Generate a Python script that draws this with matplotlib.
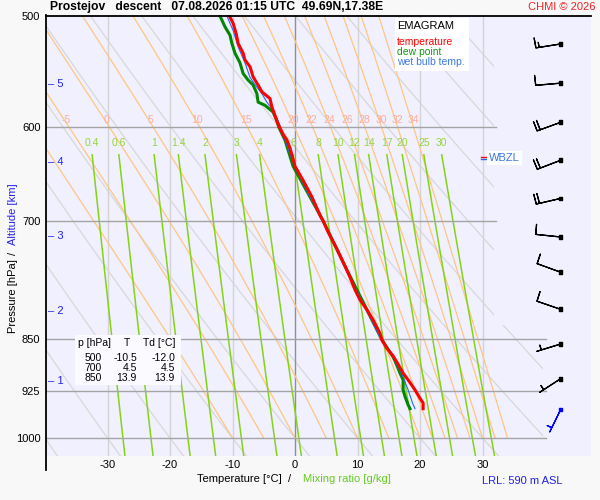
import numpy as np
import matplotlib.pyplot as plt
from matplotlib.patches import Polygon, Rectangle
from matplotlib.lines import Line2D
from matplotlib.ticker import NullLocator

plt.rcParams['font.family'] = ['Liberation Sans', 'DejaVu Sans']

# profile: temperature
p_temp = [500, 506, 515, 523, 531.5, 537.5, 543.4, 552.6, 560.1, 566.3, 572.6, 580.6,
          588.8, 597.2, 607.3, 613, 621, 640, 655, 673, 695, 700, 713, 733, 754, 768,
          784, 797, 810, 824, 842, 851, 863, 874, 886, 899, 909, 924, 937, 944, 953]
t_temp = [-10.5, -9.9, -9.4, -9.1, -8.3, -8.0, -7.2, -6.7, -5.9, -5.3, -4.0, -3.7,
          -3.2, -2.7, -1.9, -1.3, -0.8, 0.0, 1.3, 2.7, 4.1, 4.5, 5.3, 6.7, 8.0, 8.8,
          9.6, 10.4, 11.5, 12.5, 13.6, 13.9, 14.7, 15.7, 16.5, 17.3, 18.1, 19.2, 20.0, 20.5, 20.5]

# profile: dew point
p_dew = [500, 509, 516, 523, 531.5, 540, 549.5, 555.5, 560, 568, 576, 579, 585.5, 594,
         600, 613, 640, 673, 700, 754, 810, 851, 874, 881, 892, 899, 909, 924, 934, 947, 953]
t_dew = [-12.0, -11.2, -10.4, -10.1, -9.6, -8.8, -8.3, -7.5, -6.7, -6.1, -5.9, -4.8, -3.5, -2.9,
         -2.6, -1.6, -0.3, 2.4, 4.5, 8.0, 11.5, 13.9, 15.6, 16.0, 16.5, 16.8, 17.3, 17.3, 17.6, 18.1, 18.4]

# profile: wet bulb temperature
p_wet = [500, 512, 526, 540, 553, 562, 568, 576, 582, 590, 600, 640, 700, 754, 810, 851,
         874, 886, 900, 924, 944, 953]
t_wet = [-10.9, -9.9, -9.1, -8.0, -7.2, -6.1, -5.3, -4.5, -3.7, -3.0, -2.3, -0.1, 4.4, 7.9,
         11.4, 13.8, 15.6, 16.3, 17.1, 18.1, 18.8, 19.2]

# winds
p_wind = [523.5, 558.3, 595.4, 633.7, 674.7, 718.8, 761.6, 809.5, 857.0, 907.2, 954.4]
wind_dir = [261, 265, 250, 249, 257, 276, 290, 289, 253, 237, 206]
wind_kt = [15, 10, 20, 20, 20, 10, 10, 10, 5, 5, 5]

# altitude marks
alt_km = [1, 2, 3, 4, 5]
alt_p = [911, 812, 717.5, 636, 559]

# table
tab_p = ['500', '700', '850']
tab_t = ['-10.5', '4.5', '13.9']
tab_td = ['-12.0', '4.5', '13.9']

# background diagram lines
isobars = [600, 700, 850, 925, 1000]
isotherms = [-30, -20, -10, 0, 10, 20, 30]
theta_dry = list(range(-40, 160, 10))
theta_w = [-10, -5, 0, 5, 10, 15, 20, 22, 24, 26, 28, 30, 32, 34]
mix_ratio = [0.4, 0.6, 1, 1.4, 2, 3, 4, 6, 8, 10, 12, 14, 17, 20, 25, 30]
p_wbzl = 631


def es(tc):
    return 6.112 * np.exp(17.67 * tc / (tc + 243.5))


def moist_dtdp(p, tk):
    e = es(tk - 273.15)
    rs = 0.622 * e / (p - e)
    lv = 2.501e6
    return (287.04 * tk + lv * rs) / (1005.7 + lv * lv * rs * 0.622 / (287.04 * tk * tk)) / p


def moist_adiabat(tw, ps):
    t = tw + 273.15
    out = [t]
    for i in range(len(ps) - 1):
        h = ps[i + 1] - ps[i]
        k1 = moist_dtdp(ps[i], t)
        k2 = moist_dtdp(ps[i] + h / 2, t + h / 2 * k1)
        k3 = moist_dtdp(ps[i] + h / 2, t + h / 2 * k2)
        k4 = moist_dtdp(ps[i] + h, t + h * k3)
        t = t + h / 6 * (k1 + 2 * k2 + 2 * k3 + k4)
        out.append(t)
    return np.array(out) - 273.15


def mix_td(w, p):
    e = w * p / (622.0 + w)
    a = np.log(e / 6.112)
    return 243.5 * a / (17.67 - a)


fig = plt.figure(figsize=(6, 5), dpi=100, facecolor='#f8f8f8')
ax = fig.add_axes([46 / 600, 44 / 500, 545 / 600, 441 / 500])
ax.set_facecolor('#f0f0ff')
ax.set_yscale('log')
ax.set_ylim(1030, 499.18)
ax.set_xlim(-39.84, 47.36)
for s in ax.spines.values():
    s.set_visible(False)

clip = Polygon([(-40, 499), (31.9, 499), (31.9, 830), (39.7, 830), (39.7, 1030), (-40, 1030)],
               closed=True, transform=ax.transData, fill=False, visible=False)
ax.add_patch(clip)

pp = np.linspace(499, 1030, 200)
for th in theta_dry:
    ln, = ax.plot((th + 273.15) * (pp / 1000) ** 0.286 - 273.15, pp, color='#d8d8d8', lw=0.9, zorder=1)
    ln.set_clip_path(clip)

pm = np.linspace(1000, 499, 300)
for tw in theta_w:
    tt = moist_adiabat(tw, pm)
    ln, = ax.plot(tt, pm, color='#ffc680', lw=0.9, zorder=2)
    ln.set_clip_path(clip)
    tl = np.interp(593, pm[::-1], tt[::-1])
    if -39 < tl < 32:
        ax.text(tl + 0.3, 593, str(tw), color='#ffab9a', fontsize=7.5, ha='center', va='center', zorder=5)

pw = np.linspace(628, 1030, 100)
for w in mix_ratio:
    ax.plot(mix_td(w, pw), pw, color='#86d314', lw=1.1, zorder=2)
    ax.text(mix_td(w, 628), 616, ('%g' % w), color='#96d43c', fontsize=7.5, ha='center', va='center', zorder=5)

for t in isotherms:
    ax.axvline(t, color='#909090' if t == 0 else '#d4d4d4', lw=1, zorder=1.5)

for p in isobars:
    ax.plot([-40, 32.2 if p < 800 else 40.2], [p, p], color='#a4a4a4', lw=1, zorder=3)

# sounding
ax.plot(t_dew, p_dew, color='#008800', lw=2.2, zorder=6)
ax.plot(t_wet, p_wet, color='#1a6cff', lw=0.8, zorder=7)
ax.plot(t_temp, p_temp, color='#ff0000', lw=2.2, zorder=8)

# winds
d = np.radians(wind_dir)
u = -np.array(wind_kt) * np.sin(d)
v = -np.array(wind_kt) * np.cos(d)
bx = np.full(len(p_wind), 42.5)
cols = ['black'] * (len(p_wind) - 1) + ['blue']
ax.barbs(bx, p_wind, u, v, length=6, linewidth=0.9, color=cols, pivot='tip',
         sizes=dict(width=0.02, spacing=0.13, height=0.4), zorder=9)
ax.scatter(bx, p_wind, marker='s', s=7, c=cols, zorder=10)

# WBZL marker
ax.plot([29.7, 30.6], [p_wbzl - 1.2, p_wbzl - 1.2], color='red', lw=1, zorder=9)
ax.plot([29.7, 30.6], [p_wbzl + 1.2, p_wbzl + 1.2], color='#2a6ae8', lw=1, zorder=9)
ax.text(31.0, p_wbzl, 'WBZL', color='#3a78e0', fontsize=8, va='center', ha='left', zorder=9,
        bbox=dict(facecolor='white', edgecolor='none', pad=1.5))

# altitude
for km, p in zip(alt_km, alt_p):
    ax.text(0.003, p, '– %d' % km, color='#2222ee', fontsize=8, va='center', ha='left',
            transform=ax.get_yaxis_transform(), zorder=9)

ax.set_yticks([500, 600, 700, 850, 925, 1000])
ax.set_yticklabels(['500', '600', '700', '850', '925', '1000'])
ax.yaxis.set_minor_locator(NullLocator())
ax.set_xticks([-30, -20, -10, 0, 10, 20, 30])
ax.set_xticklabels(['-30', '-20', '-10', '0', '10', '20', '30'])
ax.tick_params(length=0, labelsize=8)
ax.tick_params(axis='y', pad=4)
ax.tick_params(axis='x', pad=3)

# frame lines
fig.add_artist(Line2D([46 / 600, 591 / 600], [1 - 15.5 / 500, 1 - 15.5 / 500], color='black', lw=1.3))
fig.add_artist(Line2D([46 / 600, 46 / 600], [1 - 15 / 500, 1 - 470 / 500], color='black', lw=1.3))


def px(x, y):
    return x / 600, 1 - y / 500


# legend box
fig.add_artist(Rectangle(px(395, 71), 74 / 600, 53 / 500, facecolor='white', edgecolor='none', zorder=20))
fig.text(*px(397, 26), 'EMAGRAM', fontsize=8, va='center', zorder=21)
fig.text(*px(397, 42), 'temperature', fontsize=7.5, color='red', va='center', zorder=21)
fig.text(*px(397, 52), 'dew point', fontsize=7.5, color='#119911', va='center', zorder=21)
fig.text(*px(397, 62), 'wet bulb temp.', fontsize=7.5, color='#3a78e0', va='center', zorder=21)

# table
fig.add_artist(Rectangle(px(75, 385), 106 / 600, 50 / 500, facecolor='#fafaff', edgecolor='none', zorder=20))
fig.text(*px(78, 343), 'p [hPa]', fontsize=7.5, va='center', zorder=21)
fig.text(*px(127, 343), 'T', fontsize=7.5, va='center', ha='center', zorder=21)
fig.text(*px(143, 343), 'Td [°C]', fontsize=7.5, va='center', zorder=21)
for i in range(len(tab_p)):
    y = 358 + 10 * i
    fig.text(*px(102, y), tab_p[i], fontsize=7.5, va='center', ha='right', zorder=21)
    fig.text(*px(137, y), tab_t[i], fontsize=7.5, va='center', ha='right', zorder=21)
    fig.text(*px(175, y), tab_td[i], fontsize=7.5, va='center', ha='right', zorder=21)

# titles
fig.text(*px(50, 7), 'Prostejov   descent   07.08.2026 01:15 UTC  49.69N,17.38E',
         fontsize=8.7, fontweight='bold', va='center')
fig.text(*px(596, 7), 'CHMI © 2026', fontsize=8, color='#ee2222', va='center', ha='right')
fig.text(*px(197, 479), 'Temperature [°C]  /', fontsize=8, va='center')
fig.text(*px(303, 479), 'Mixing ratio [g/kg]', fontsize=8, color='#66cc22', va='center')
fig.text(*px(482, 481), 'LRL: 590 m ASL', fontsize=8, color='#2222ee', va='center')
fig.text(*px(13, 333), 'Pressure [hPa]', fontsize=8, rotation=90, ha='center', va='bottom')
fig.text(*px(13, 253), '/', fontsize=8, rotation=90, ha='center', va='center')
fig.text(*px(13, 183), 'Altitude [km]', fontsize=8, rotation=90, ha='center', va='top', color='#2222ee')

fig.savefig('out.png', dpi=100, facecolor=fig.get_facecolor())
